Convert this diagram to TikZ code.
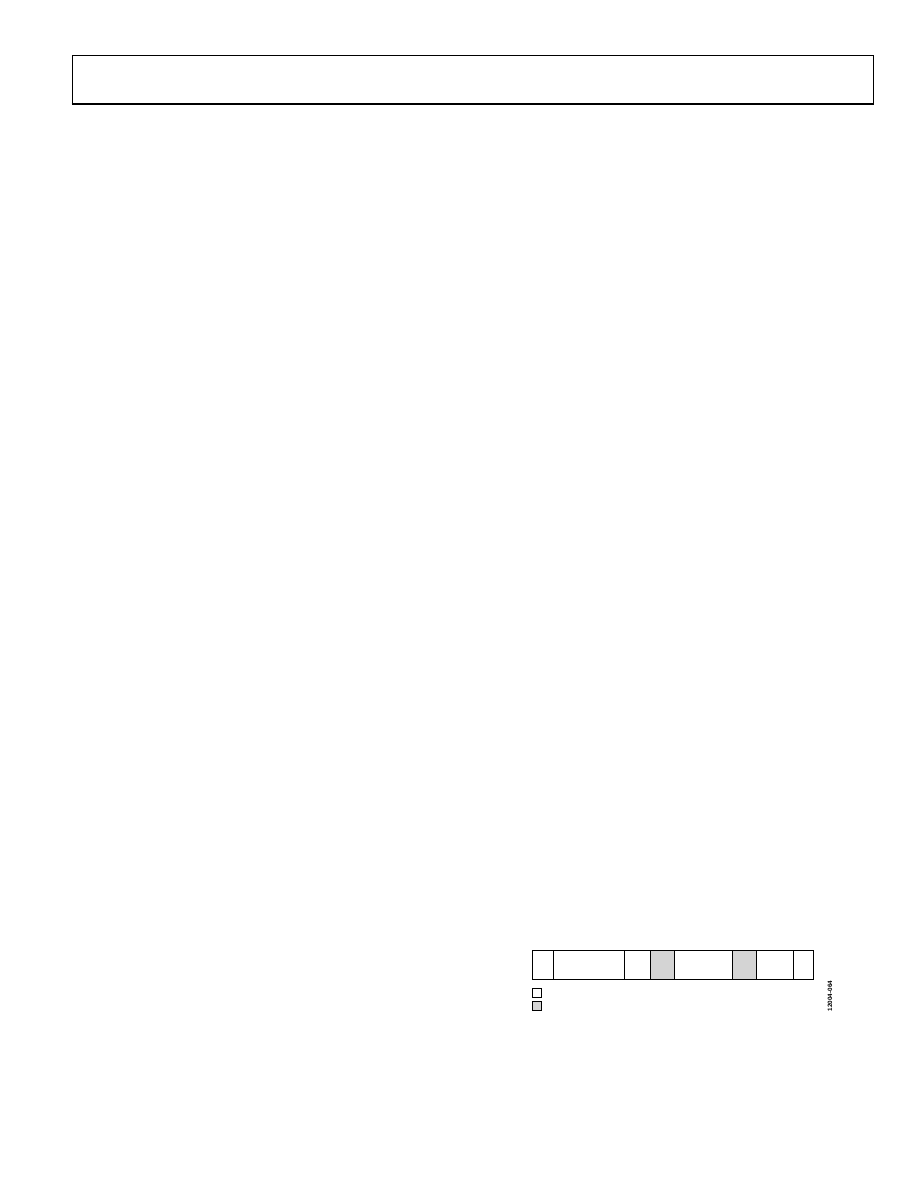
\documentclass[tikz,border=0pt]{standalone}
\usepackage{fontspec}
\setmainfont{Liberation Sans}
\begin{document}
\begin{tikzpicture}[x=1pt,y=-1pt,
  cell/.style={draw=black,line width=0.9pt},
  greycell/.style={cell,fill=black!17},
  legbox/.style={draw=black,line width=0.8pt}]
\useasboundingbox (0,0) rectangle (918,1188);
% header frame
\draw[line width=0.9pt] (72,104) -- (72,55) -- (873,55) -- (873,104);
\draw[line width=2.2pt] (71.5,104) -- (873.5,104);
% bar
\draw[cell] (532.5,950) rectangle (553.3,979.3);
\draw[cell] (553.3,950) rectangle (624.3,979.3);
\draw[cell] (624.3,950) rectangle (650,979.3);
\draw[greycell] (650,950) rectangle (674,979.3);
\draw[cell] (674,950) rectangle (732.3,979.3);
\draw[greycell] (732.3,950) rectangle (756.3,979.3);
\draw[cell] (756.3,950) rectangle (793.3,979.3);
\draw[cell] (793.3,950) rectangle (813.3,979.3);
% legend
\draw[legbox] (532.5,988.5) rectangle (541.5,997.3);
\draw[legbox,fill=black!17] (532.5,1001.8) rectangle (541.5,1010.6);
% figure id
\node (fid) [rotate=90,font=\fontsize{6.3}{6.3}\selectfont\bfseries,inner sep=0pt] at (830,996) {12004-064};
\end{tikzpicture}
\end{document}
